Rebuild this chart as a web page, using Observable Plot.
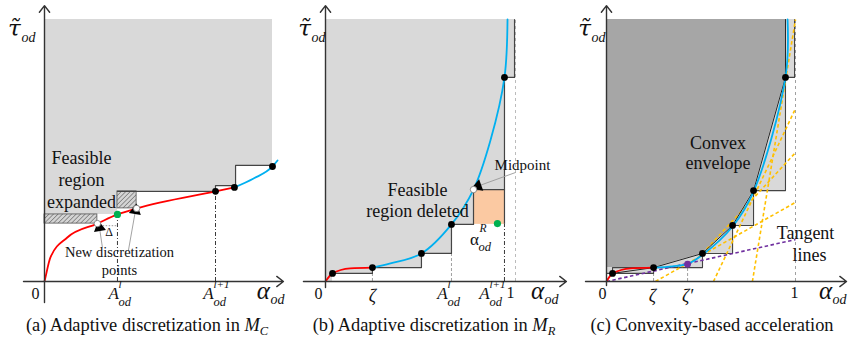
<!DOCTYPE html>
<html><head><meta charset="utf-8">
<script src="https://cdn.jsdelivr.net/npm/d3@7"></script>
<script src="https://cdn.jsdelivr.net/npm/@observablehq/plot@0.6"></script>
<style>
body{margin:0;background:#fff;}
#row{display:flex;width:848px;}
.cap{font-family:"Liberation Serif","DejaVu Serif","Times New Roman",serif;font-size:18.4px;height:31px;line-height:31px;text-align:center;white-space:nowrap;color:#111;}
.cap i{font-style:italic;}
.cap .s{font-size:12.5px;position:relative;top:4px;font-style:italic;}
</style></head><body><div id="row"></div>
<script>
// ---------------- Panel (a) data ----------------
const aStepX = [0, 0.32, 0.75, 0.838, 1];
const aStepY = [0.256, 0.344, 0.366, 0.443, 1];
const aOutX = [0.32, 0.75, 0.838, 1];
const aOutY = [0.344, 0.366, 0.443, 0.443];
const aRedX = [0, 0.004, 0.026, 0.1, 0.232, 0.32, 0.404, 0.75, 0.833];
const aRedY = [0, 0.015, 0.092, 0.168, 0.221, 0.256, 0.279, 0.344, 0.359];
const aBlueX = [0.833, 0.917, 1, 1.022];
const aBlueY = [0.359, 0.393, 0.439, 0.462];
const aHatchX1 = [0, 0.32], aHatchX2 = [0.232, 0.404];
const aHatchY1 = [0.221, 0.279], aHatchY2 = [0.256, 0.344];
const aBlackX = [0.75, 0.833, 1], aBlackY = [0.344, 0.359, 0.439];
const aWhiteX = [0.232, 0.404], aWhiteY = [0.221, 0.279];
const aGreenX = [0.32], aGreenY = [0.256];
const aTickX = [0.32, 0.75], aTickTop = [0.256, 0.344];
const aTickLabelX = [0.303, 0.719], aTickSup = ["l", "l+1"];
const aPtrX1 = [0.254, 0.368], aPtrY1 = [0.13, 0.118], aPtrX2 = [0.241, 0.399], aPtrY2 = [0.206, 0.271];
const aAxisX = [-0.092, 1.048], aAxisY = [-0.08, 1.053];

// ---------------- Panel (b) data ----------------
const bStepX = [0, 0.037, 0.247, 0.505, 0.663, 0.779, 0.942, 0.995];
const bStepY = [0, 0.031, 0.053, 0.107, 0.218, 0.351, 0.779, 1];
const bRedX = [0, 0.037, 0.13, 0.247], bRedY = [0, 0.031, 0.05, 0.053];
const bBlueX = [0.247, 0.342, 0.505, 0.663, 0.779, 0.868, 0.942, 0.958];
const bBlueY = [0.053, 0.069, 0.107, 0.218, 0.351, 0.538, 0.779, 1];
const bOrange = {x1: 0.779, x2: 0.942, y1: 0.218, y2: 0.351};
const bBlackX = [0.037, 0.247, 0.505, 0.663, 0.942], bBlackY = [0.031, 0.053, 0.107, 0.218, 0.779];
const bWhiteX = [0.779], bWhiteY = [0.351];
const bGreenX = [0.905], bGreenY = [0.221];
const bDashX = [0.247, 0.663], bDashTop = [0.053, 0.218];
const bDashDotX = [0.942], bDashDotTop = [0.218];
const bPtr = {x1: 1.0, y1: 0.416, x2: 0.802, y2: 0.364};
const bAxisX = [-0.116, 1.268], bAxisY = [-0.023, 1.053];

// ---------------- Panel (c) data ----------------
const cStepX = [0, 0.032, 0.249, 0.508, 0.667, 0.778, 0.947, 0.995];
const cStepY = [0.031, 0.031, 0.053, 0.107, 0.214, 0.347, 0.779, 1];
const cEnvX = [0, 0.249, 0.508, 0.667, 0.778, 0.947, 0.947];
const cEnvY = [0.053, 0.053, 0.107, 0.214, 0.347, 0.779, 1];
const cEnvLineX = [0.032, 0.249, 0.508, 0.667, 0.778, 0.947, 0.947];
const cEnvLineY = [0.031, 0.053, 0.107, 0.214, 0.347, 0.779, 1];
const cBoxX = [0, 0.032, 0.032, 0.249], cBoxY = [0.031, 0.031, 0.053, 0.053];
const cRedX = [0, 0.032, 0.13, 0.249], cRedY = [0, 0.031, 0.05, 0.053];
const cBlueX = [0.249, 0.35, 0.429, 0.508, 0.667, 0.778, 0.947, 0.958];
const cBlueY = [0.053, 0.058, 0.067, 0.102, 0.21, 0.343, 0.779, 1];
const cBlackX = [0.032, 0.249, 0.508, 0.667, 0.778, 0.947], cBlackY = [0.031, 0.053, 0.107, 0.214, 0.347, 0.779];
const cPurpleX = [0.429], cPurpleY = [0.066];
const cTanX1 = [0.259, 0.508, 0.566, 0.772], cTanY1 = [0, 0.107, 0, 0];
const cTanX2 = [1, 1, 1, 1], cTanY2 = [0.302, 0.492, 0.66, 1];
const cPurpleLine = {x1: 0, y1: 0, x2: 1, y2: 0.16};
const cDashX = [0.249, 0.429], cDashTop = [0.053, 0.066];
const cAxisX = [-0.111, 1.27], cAxisY = [-0.015, 1.053];

// ---------------- layout ----------------
const W = [290, 280, 278];
const H = 310;
const XR = [[44, 272], [35, 225], [36, 225]];
const YR = [281, 19];
const FONT = "'Liberation Serif', 'DejaVu Serif', 'Times New Roman', serif";
const GREEKFONT = "'DejaVu Serif', 'Noto Sans', 'DejaVu Sans', serif";
const GRAY = "#d9d9d9", DARK = "#a6a6a6", LINE = "#444", RED = "#ff0000", BLUE = "#00b0f0";

const pts = (xs, ys) => xs.map((x, i) => ({x, y: ys[i]}));
const txt = (data, o = {}) => Plot.text(data, {x: "x", y: "y", text: "t", fontFamily: FONT, fill: "#111", fontSize: 17, ...o});

function axes(ax, ay) {
  const o = {stroke: "#333", strokeWidth: 1.4, headLength: 9, headAngle: 75};
  return [
    Plot.arrow([0], {x1: ax[0], x2: ax[1], y1: 0, y2: 0, ...o}),
    Plot.arrow([0], {x1: 0, x2: 0, y1: ay[0], y2: ay[1], ...o})
  ];
}
function tauLabel(x) {
  return [
    txt([{x, y: 0.966, t: "\u03C4\u0303"}], {fontStyle: "italic", fontSize: 23, fontFamily: GREEKFONT}),
    txt([{x, y: 0.966, t: "od"}], {fontStyle: "italic", fontSize: 14, textAnchor: "start", dx: 7, dy: 9})
  ];
}
function alphaLabel(x) {
  return [
    txt([{x, y: 0, t: "α"}], {fontStyle: "italic", fontSize: 25, dy: 9}),
    txt([{x, y: 0, t: "od"}], {fontStyle: "italic", fontSize: 14, textAnchor: "start", dx: 7, dy: 18})
  ];
}
function aLabels(xs, sups) {
  const d = xs.map((x, i) => ({x, y: 0, t: sups[i]}));
  return [
    txt(xs.map(x => ({x, y: 0, t: "A"})), {fontStyle: "italic", fontSize: 17, dy: 12}),
    txt(d, {fontStyle: "italic", fontSize: 11, textAnchor: "start", dx: 5, dy: 3}),
    txt(xs.map(x => ({x, y: 0, t: "od"})), {fontStyle: "italic", fontSize: 12.5, textAnchor: "start", dx: 5, dy: 20})
  ];
}
function heads(x1, y1, x2, y2, k) {
  const sx = (XR[k][1] - XR[k][0]), sy = (YR[0] - YR[1]);
  return x1.map((_, i) => ({x: x2[i], y: y2[i], rot: Math.atan2((x2[i] - x1[i]) * sx, (y2[i] - y1[i]) * sy) * 180 / Math.PI}));
}
function make(k, marks) {
  const svg = Plot.plot({
    width: W[k], height: H, margin: 0,
    x: {domain: [0, 1], range: XR[k], axis: null},
    y: {domain: [0, 1], range: YR, axis: null},
    style: {background: "white", overflow: "visible", fontFamily: FONT},
    marks
  });
  svg.insertAdjacentHTML("afterbegin",
    `<defs><pattern id="hatch" patternUnits="userSpaceOnUse" width="3.2" height="3.2" patternTransform="rotate(45)"><rect width="3.2" height="3.2" fill="#d4d4d4"/><line x1="0" y1="0" x2="0" y2="3.2" stroke="#6a6a6a" stroke-width="1.3"/></pattern></defs>`);
  return svg;
}

// ---------------- Panel (a) ----------------
const hatchA = aHatchX1.map((x1, i) => ({x1, x2: aHatchX2[i], y1: aHatchY1[i], y2: aHatchY2[i]}));
const ptrA = aPtrX1.map((x1, i) => ({x1, y1: aPtrY1[i], x2: aPtrX2[i], y2: aPtrY2[i]}));
const svgA = make(0, [
  Plot.areaY(pts(aStepX, aStepY), {x: "x", y1: "y", y2: 1, curve: "step-after", fill: GRAY}),
  Plot.rect(hatchA, {x1: "x1", x2: "x2", y1: "y1", y2: "y2", fill: "url(#hatch)", stroke: "#555", strokeWidth: 0.8}),
  Plot.ruleX(pts(aTickX, aTickTop), {x: "x", y1: 0, y2: "y", stroke: "#222", strokeWidth: 0.9, strokeDasharray: "4,2,1,2"}),
  Plot.line(pts(aOutX, aOutY), {x: "x", y: "y", curve: "step-after", stroke: LINE, strokeWidth: 1.2}),
  Plot.link([0], {x1: aWhiteX[0] + 0.01, x2: aGreenX[0] - 0.005, y1: 0.213, y2: 0.213, stroke: "#999", strokeDasharray: "1.5,1.5"}),
  Plot.line(pts(aRedX, aRedY), {x: "x", y: "y", curve: "monotone-x", stroke: RED, strokeWidth: 1.8}),
  Plot.line(pts(aBlueX, aBlueY), {x: "x", y: "y", curve: "monotone-x", stroke: BLUE, strokeWidth: 1.8}),
  Plot.link(ptrA, {x1: "x1", y1: "y1", x2: "x2", y2: "y2", stroke: "#999", strokeWidth: 0.9}),
  Plot.dot(heads(aPtrX1, aPtrY1, aPtrX2, aPtrY2, 0), {x: "x", y: "y", symbol: "triangle", r: 4.5, fill: "#000", rotate: "rot"}),
  Plot.dot(pts(aBlackX, aBlackY), {x: "x", y: "y", r: 3.4, fill: "#000"}),
  Plot.dot(pts(aWhiteX, aWhiteY), {x: "x", y: "y", r: 3.2, fill: "#fff", stroke: "#777", strokeWidth: 0.8}),
  Plot.dot(pts(aGreenX, aGreenY), {x: "x", y: "y", r: 3.6, fill: "#00b050"}),
  ...axes(aAxisX, aAxisY),
  txt([{x: 0.162, y: 0.469, t: "Feasible"}, {x: 0.162, y: 0.385, t: "region"}, {x: 0.162, y: 0.302, t: "expanded"}], {fontSize: 18}),
  txt([{x: 0.329, y: 0.11, t: "New discretization"}, {x: 0.329, y: 0.042, t: "points"}], {fontSize: 14.5}),
  txt([{x: 0.283, y: 0.19, t: "Δ"}], {fontSize: 12}),
  txt([{x: -0.04, y: 0, t: "0"}], {fontSize: 16, dy: 12}),
  ...aLabels(aTickLabelX, aTickSup),
  ...alphaLabel(0.96),
  ...tauLabel(-0.132)
]);

// ---------------- Panel (b) ----------------
const svgB = make(1, [
  Plot.areaY(pts(bStepX, bStepY), {x: "x", y1: "y", y2: 1, curve: "step-after", fill: GRAY}),
  Plot.rect([bOrange], {x1: "x1", x2: "x2", y1: "y1", y2: "y2", fill: "#fbc9a2"}),
  Plot.ruleX(pts(bDashX, bDashTop), {x: "x", y1: 0, y2: "y", stroke: "#888", strokeWidth: 0.8, strokeDasharray: "3,2"}),
  Plot.ruleX(pts(bDashDotX, bDashDotTop), {x: "x", y1: 0, y2: "y", stroke: "#222", strokeWidth: 0.9, strokeDasharray: "4,2,1,2"}),
  Plot.ruleX([1], {x: d => d, y1: 0, y2: 1, stroke: "#aaa", strokeWidth: 0.8, strokeDasharray: "3,3"}),
  Plot.ruleX([bOrange], {x: "x2", y1: "y1", y2: "y2", stroke: LINE, strokeWidth: 1.2}),
  Plot.line(pts(bStepX.slice(1), bStepY.slice(1)), {x: "x", y: "y", curve: "step-after", stroke: LINE, strokeWidth: 1.2}),
  Plot.line(pts(bRedX, bRedY), {x: "x", y: "y", curve: "monotone-x", stroke: RED, strokeWidth: 1.8}),
  Plot.line(pts(bBlueX, bBlueY), {x: "x", y: "y", curve: "catmull-rom", stroke: BLUE, strokeWidth: 1.8}),
  Plot.link([bPtr], {x1: "x1", y1: "y1", x2: "x2", y2: "y2", stroke: "#999", strokeWidth: 0.9}),
  Plot.dot(heads([bPtr.x1], [bPtr.y1], [bPtr.x2], [bPtr.y2], 1), {x: "x", y: "y", symbol: "triangle", r: 4.5, fill: "#000", rotate: "rot"}),
  Plot.dot(pts(bBlackX, bBlackY), {x: "x", y: "y", r: 3.4, fill: "#000"}),
  Plot.dot(pts(bWhiteX, bWhiteY), {x: "x", y: "y", r: 3.2, fill: "#fff", stroke: "#777", strokeWidth: 0.8}),
  Plot.dot(pts(bGreenX, bGreenY), {x: "x", y: "y", r: 3.6, fill: "#00b050"}),
  ...axes(bAxisX, bAxisY),
  txt([{x: 0.484, y: 0.347, t: "Feasible"}, {x: 0.484, y: 0.267, t: "region deleted"}], {fontSize: 18}),
  txt([{x: 1.037, y: 0.443, t: "Midpoint"}], {fontSize: 15}),
  txt([{x: 0.784, y: 0.16, t: "α"}], {fontSize: 17}),
  txt([{x: 0.784, y: 0.16, t: "R"}], {fontSize: 11.5, fontStyle: "italic", textAnchor: "start", dx: 5, dy: -11}),
  txt([{x: 0.784, y: 0.16, t: "od"}], {fontSize: 12.5, fontStyle: "italic", textAnchor: "start", dx: 4, dy: 7}),
  txt([{x: -0.037, y: 0, t: "0"}], {fontSize: 16, dy: 12}),
  txt([{x: 0.247, y: 0, t: "ζ"}], {fontSize: 18, fontStyle: "italic", dy: 15}),
  txt([{x: 0.974, y: 0, t: "1"}], {fontSize: 16, dy: 11}),
  ...aLabels([0.616, 0.837], ["l", "l+1"]),
  ...alphaLabel(1.116),
  ...tauLabel(-0.11)
]);

// ---------------- Panel (c) ----------------
const tanC = cTanX1.map((x1, i) => ({x1, y1: cTanY1[i], x2: cTanX2[i], y2: cTanY2[i]}));
const svgC = make(2, [
  Plot.areaY(pts(cStepX, cStepY), {x: "x", y1: "y", y2: 1, curve: "step-after", fill: GRAY}),
  Plot.areaY(pts(cEnvX, cEnvY), {x: "x", y1: "y", y2: 1, fill: DARK}),
  Plot.ruleX(pts(cDashX, cDashTop), {x: "x", y1: 0, y2: "y", stroke: "#888", strokeWidth: 0.8, strokeDasharray: "3,2"}),
  Plot.ruleX([1], {x: d => d, y1: 0, y2: 1, stroke: "#888", strokeWidth: 0.8, strokeDasharray: "3,3"}),
  Plot.line(pts(cStepX.slice(1), cStepY.slice(1)), {x: "x", y: "y", curve: "step-after", stroke: LINE, strokeWidth: 1.1}),
  Plot.line(pts(cBoxX, cBoxY), {x: "x", y: "y", stroke: LINE, strokeWidth: 1.1}),
  Plot.link(tanC, {x1: "x1", y1: "y1", x2: "x2", y2: "y2", stroke: "#ffc000", strokeWidth: 1.6, strokeDasharray: "3.5,2.5"}),
  Plot.link([cPurpleLine], {x1: "x1", y1: "y1", x2: "x2", y2: "y2", stroke: "#7030a0", strokeWidth: 1.6, strokeDasharray: "3.5,2.5"}),
  Plot.line(pts(cEnvLineX, cEnvLineY), {x: "x", y: "y", stroke: "#222", strokeWidth: 1}),
  Plot.line(pts(cRedX, cRedY), {x: "x", y: "y", curve: "monotone-x", stroke: RED, strokeWidth: 1.8}),
  Plot.line(pts(cBlueX, cBlueY), {x: "x", y: "y", curve: "catmull-rom", stroke: BLUE, strokeWidth: 1.8}),
  Plot.dot(pts(cBlackX, cBlackY), {x: "x", y: "y", r: 3.4, fill: "#000"}),
  Plot.dot(pts(cPurpleX, cPurpleY), {x: "x", y: "y", r: 3.4, fill: "#7030a0"}),
  ...axes(cAxisX, cAxisY),
  txt([{x: 0.59, y: 0.527, t: "Convex"}, {x: 0.59, y: 0.45, t: "envelope"}], {fontSize: 18}),
  txt([{x: 1.053, y: 0.183, t: "Tangent"}, {x: 1.074, y: 0.099, t: "lines"}], {fontSize: 18}),
  txt([{x: -0.021, y: 0, t: "0"}], {fontSize: 16, dy: 12}),
  txt([{x: 0.243, y: 0, t: "ζ"}, {x: 0.429, y: 0, t: "ζ′"}], {fontSize: 18, fontStyle: "italic", dy: 15}),
  txt([{x: 0.995, y: 0, t: "1"}], {fontSize: 16, dy: 11}),
  ...alphaLabel(1.159),
  ...tauLabel(-0.116)
]);

// ---------------- assemble ----------------
const captions = [
  `(a) Adaptive discretization in <i>M</i><span class="s">C</span>`,
  `(b) Adaptive discretization in <i>M</i><span class="s">R</span>`,
  `(c) Convexity-based acceleration`
];
const capShift = [4, 8, 6];
const row = document.getElementById("row");
[svgA, svgB, svgC].forEach((svg, k) => {
  const col = document.createElement("div");
  col.style.width = W[k] + "px";
  col.appendChild(svg);
  const cap = document.createElement("div");
  cap.className = "cap";
  cap.style.paddingLeft = capShift[k] + "px";
  cap.innerHTML = captions[k];
  col.appendChild(cap);
  row.appendChild(col);
});
</script></body></html>
